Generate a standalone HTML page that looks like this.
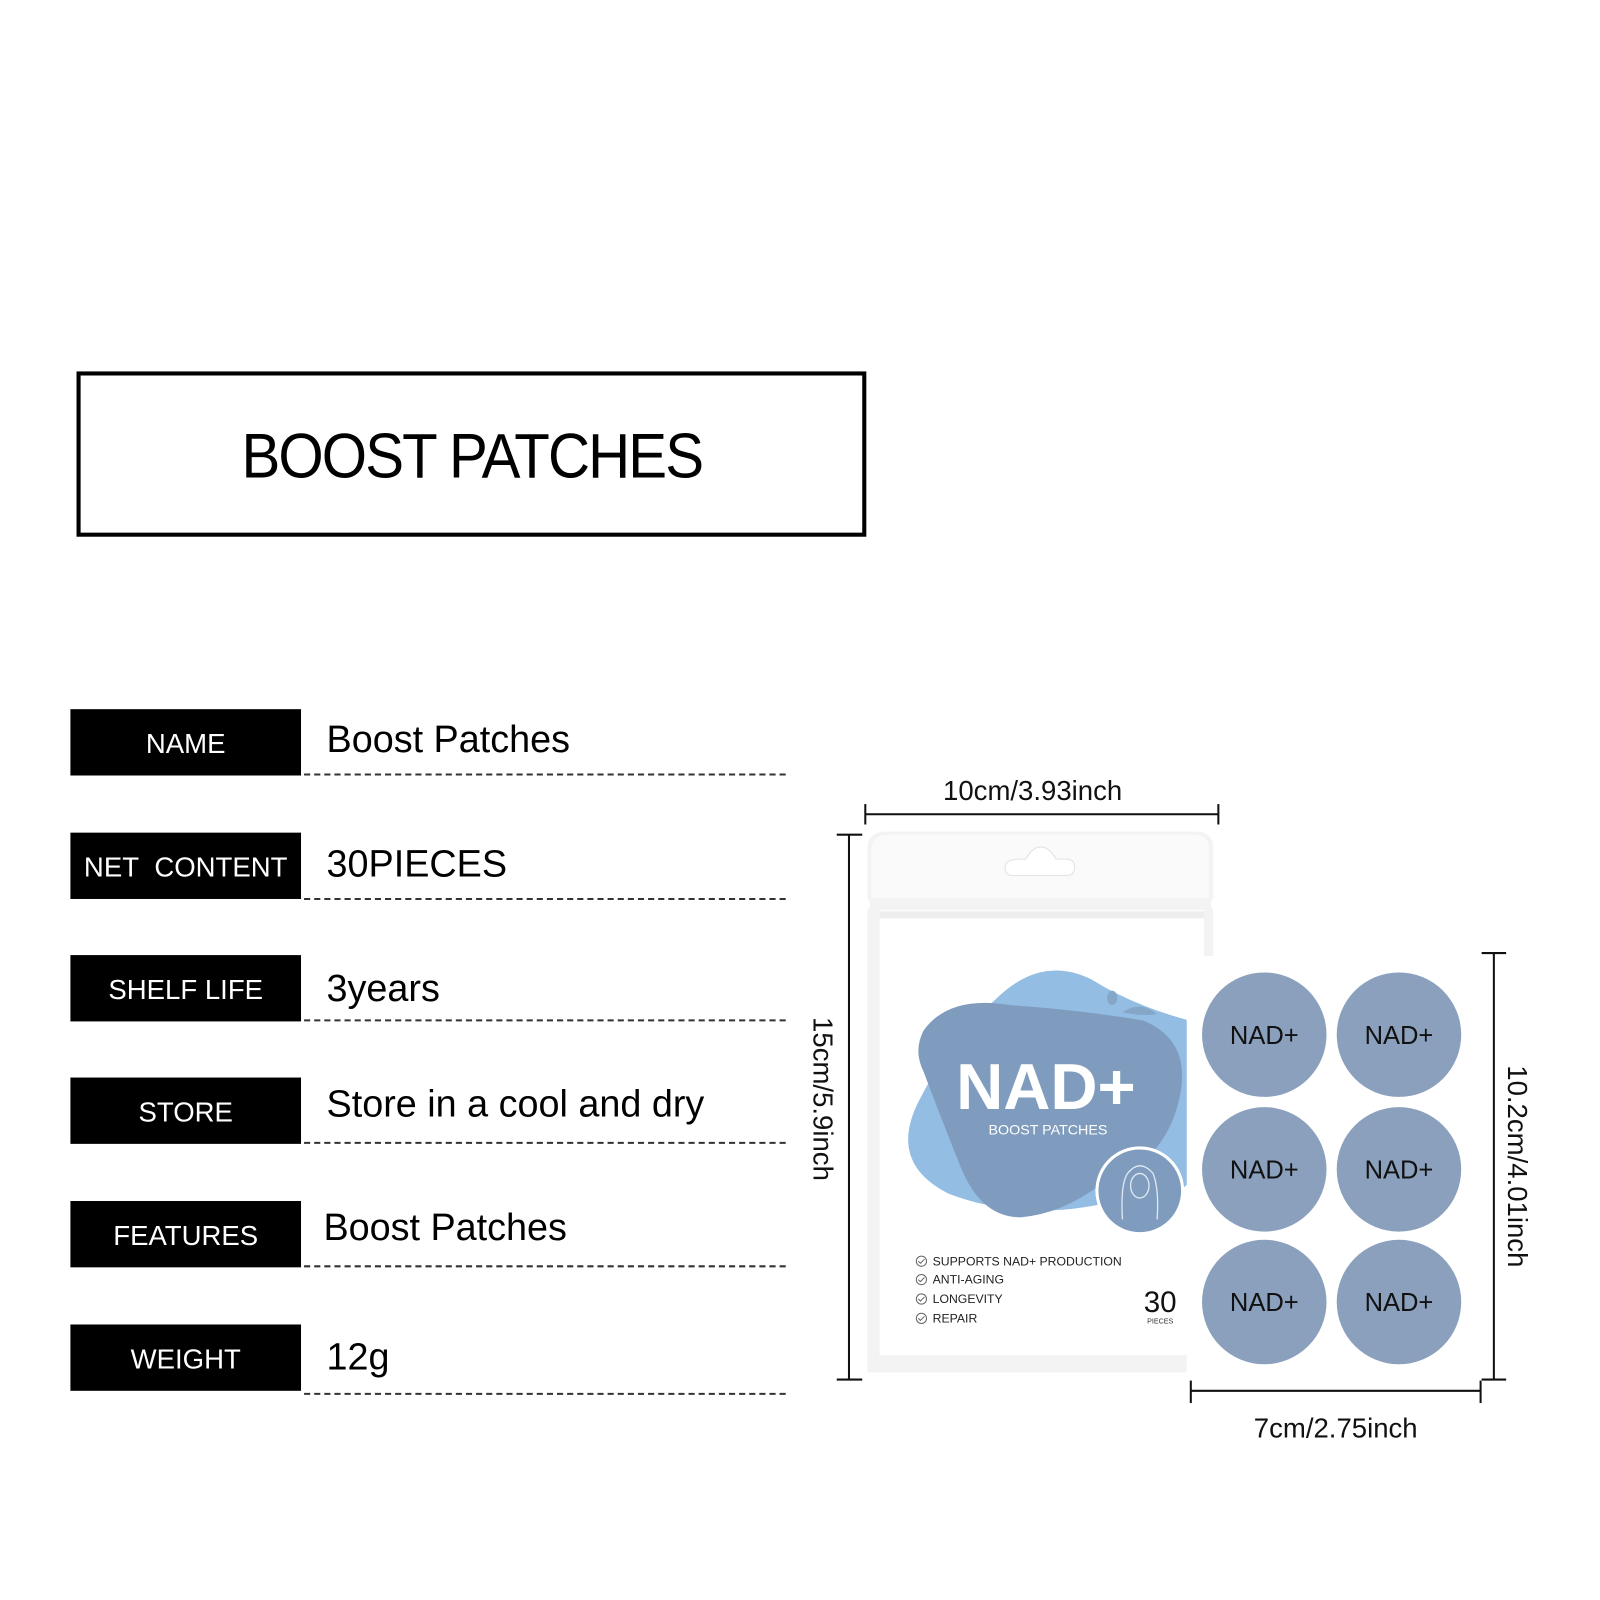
<!DOCTYPE html>
<html><head><meta charset="utf-8"><style>
body{margin:0;width:1600px;height:1600px;background:#fff;position:relative;overflow:hidden;font-family:"Liberation Sans",sans-serif}
#w{position:absolute;left:0;top:0;width:1568px;height:1568px;transform:scale(1.0204);transform-origin:0 0}
.a{position:absolute}
.title{left:75px;top:364px;width:766px;height:154px;border:4px solid #000;text-align:center;line-height:160px;font-size:62px;color:#000;letter-spacing:-2px}
.title span{display:inline-block;transform:scaleX(0.92)}
.lab{left:69px;width:226px;height:65px;background:#000;color:#fff;font-size:27px;text-align:center;line-height:68px}
.val{left:320px;font-size:37px;color:#000}
.dash{left:298px;width:472px;border-top:2px dashed #333;height:0}
</style></head><body><div id="w">
<div class="a title"><span>BOOST PATCHES</span></div>

<div class="a lab" style="top:695px">NAME</div>
<div class="a val" style="top:704px">Boost Patches</div>
<div class="a dash" style="top:758px"></div>

<div class="a lab" style="top:816px">NET&nbsp; CONTENT</div>
<div class="a val" style="top:826px">30PIECES</div>
<div class="a dash" style="top:880px"></div>

<div class="a lab" style="top:936px">SHELF LIFE</div>
<div class="a val" style="top:948px">3years</div>
<div class="a dash" style="top:999px"></div>

<div class="a lab" style="top:1056px">STORE</div>
<div class="a val" style="top:1061px">Store in a cool and dry</div>
<div class="a dash" style="top:1119px"></div>

<div class="a lab" style="top:1177px">FEATURES</div>
<div class="a val" style="top:1182px;left:317px">Boost Patches</div>
<div class="a dash" style="top:1240px"></div>

<div class="a lab" style="top:1298px">WEIGHT</div>
<div class="a val" style="top:1309px">12g</div>
<div class="a dash" style="top:1365px"></div>

<svg class="a" style="left:0;top:0" width="1568" height="1568">
 <g stroke="#111" stroke-width="2" fill="none">
  <line x1="848" y1="798" x2="1194" y2="798"/><line x1="848" y1="788" x2="848" y2="808"/><line x1="1194" y1="788" x2="1194" y2="808"/>
  <line x1="832" y1="818" x2="832" y2="1352"/><line x1="820" y1="818" x2="845" y2="818"/><line x1="820" y1="1352" x2="845" y2="1352"/>
  <line x1="1464" y1="934" x2="1464" y2="1352"/><line x1="1452" y1="934" x2="1476" y2="934"/><line x1="1452" y1="1352" x2="1476" y2="1352"/>
  <line x1="1167" y1="1363" x2="1451" y2="1363"/><line x1="1167" y1="1353" x2="1167" y2="1375"/><line x1="1451" y1="1353" x2="1451" y2="1375"/>
 </g>
 <path d="M868 815 H1172 Q1189 815 1189 832 V880 Q1184 886 1189 892 V1345 H850 V892 Q855 886 850 880 V832 Q850 815 868 815Z" fill="#f3f3f3"/>
 <path d="M872 818 H1170 Q1185 818 1185 833 V880 H854 V833 Q854 818 872 818Z" fill="#fafafa"/>
 <rect x="862" y="892" width="318" height="436" fill="#fff"/>
 <rect x="862" y="893" width="318" height="7" fill="#eeeeee"/>
 <path d="M985 850 Q985 842 1000 842 L1005 842 Q1012 830 1020 830 Q1028 830 1035 842 L1045 842 Q1053 842 1053 850 Q1053 858 1045 858 L993 858 Q985 858 985 850Z" fill="#fff" stroke="#e2e2e2"/>
 <path d="M975 980 Q1020 935 1070 960 Q1110 985 1165 1000 V1160 Q1140 1180 1100 1175 Q1010 1200 930 1170 Q870 1140 900 1080 Q930 1020 975 980Z" fill="#93bde3"/>
 <path d="M905 1010 Q930 975 990 985 Q1060 990 1120 1000 Q1170 1020 1155 1080 Q1140 1140 1080 1160 Q1040 1190 1000 1193 Q960 1193 940 1140 Q920 1090 905 1050 Q895 1030 905 1010Z" fill="#7f9cbe"/>
 <ellipse cx="1090" cy="978" rx="5" ry="7" fill="#86a6c8"/>
 <path d="M1100 992 Q1118 980 1134 994 Q1118 996 1100 992Z" fill="#86a6c8"/>
 <circle cx="1117" cy="1167" r="42" fill="#7f9cbe" stroke="#fff" stroke-width="3"/>
 <g fill="none" stroke="#dfe8f2" stroke-width="1.3"><path d="M1100 1195 Q1098 1160 1105 1150 Q1117 1135 1130 1150 Q1136 1165 1134 1195"/><ellipse cx="1117" cy="1162" rx="9" ry="12"/></g>
 <text x="1025" y="1087" font-size="64" font-weight="bold" fill="#fff" text-anchor="middle">NAD+</text>
 <text x="1027" y="1112" font-size="14" fill="#fff" text-anchor="middle">BOOST PATCHES</text>
 <g font-size="12" fill="#222">
  <text x="914" y="1240">SUPPORTS NAD+ PRODUCTION</text>
  <text x="914" y="1258">ANTI-AGING</text>
  <text x="914" y="1277">LONGEVITY</text>
  <text x="914" y="1296">REPAIR</text>
 </g>
 <g fill="none" stroke="#666"><circle cx="903" cy="1236" r="5"/><circle cx="903" cy="1254" r="5"/><circle cx="903" cy="1273" r="5"/><circle cx="903" cy="1292" r="5"/>
 <path d="M900 1236l2 2 4-4M900 1254l2 2 4-4M900 1273l2 2 4-4M900 1292l2 2 4-4"/></g>
 <text x="1137" y="1286" font-size="29" fill="#111" text-anchor="middle">30</text>
 <text x="1137" y="1297" font-size="7" fill="#333" text-anchor="middle">PIECES</text>
 <rect x="1163" y="937" width="285" height="409" fill="#fff"/>
 <g fill="#8aa0bd">
  <circle cx="1239" cy="1014" r="61"/><circle cx="1371" cy="1014" r="61"/>
  <circle cx="1239" cy="1146" r="61"/><circle cx="1371" cy="1146" r="61"/>
  <circle cx="1239" cy="1276" r="61"/><circle cx="1371" cy="1276" r="61"/>
 </g>
 <g font-size="25" fill="#111" text-anchor="middle">
  <text x="1239" y="1023">NAD+</text><text x="1371" y="1023">NAD+</text>
  <text x="1239" y="1155">NAD+</text><text x="1371" y="1155">NAD+</text>
  <text x="1239" y="1285">NAD+</text><text x="1371" y="1285">NAD+</text>
 </g>
 <g font-size="27" fill="#111">
  <text x="1012" y="784" text-anchor="middle">10cm/3.93inch</text>
  <text x="1309" y="1409" text-anchor="middle">7cm/2.75inch</text>
  <text transform="translate(797,1077) rotate(90)" text-anchor="middle">15cm/5.9inch</text>
  <text transform="translate(1478,1143) rotate(90)" text-anchor="middle">10.2cm/4.01inch</text>
 </g>
</svg>
</div></body></html>
